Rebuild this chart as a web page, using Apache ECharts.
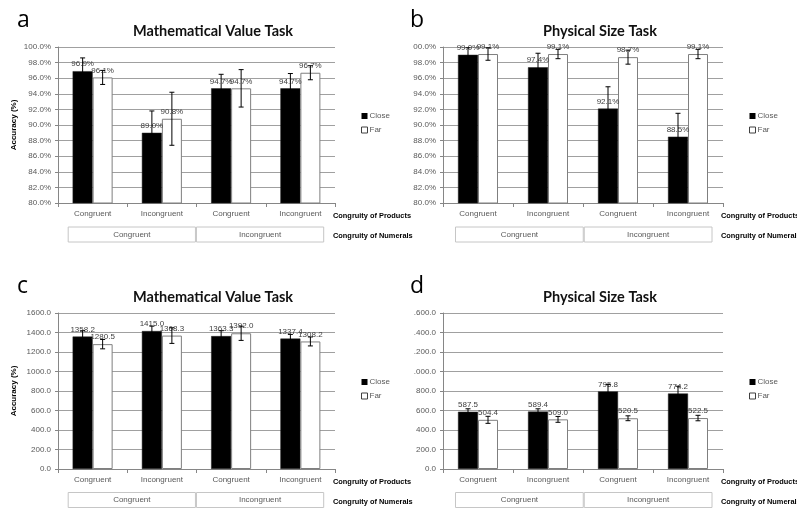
<!DOCTYPE html>
<html>
<head>
<meta charset="utf-8">
<script src="https://cdn.jsdelivr.net/npm/echarts@6/dist/echarts.min.js"></script>
<style>
html,body{margin:0;padding:0;background:#fff;}
#chart{width:797px;height:508px;}
</style>
</head>
<body>
<div id="chart"></div>
<script>
// ---------- data ----------
const productCategories = ['Congruent', 'Incongruent', 'Congruent', 'Incongruent'];
const numeralCategories = ['Congruent', 'Incongruent'];
const seriesNames = ['Close', 'Far'];

// a: Mathematical Value Task, accuracy
const accMathClose = [96.9, 89.0, 94.7, 94.7];
const accMathFar = [96.1, 90.8, 94.7, 96.7];
const accMathCloseErr = [1.7, 2.8, 1.8, 1.9];
const accMathFarErr = [0.9, 3.4, 2.4, 0.9];
// b: Physical Size Task, accuracy
const accPhysClose = [99.0, 97.4, 92.1, 88.5];
const accPhysFar = [99.1, 99.1, 98.7, 99.1];
const accPhysCloseErr = [0.9, 1.8, 2.8, 3.0];
const accPhysFarErr = [0.8, 0.6, 0.9, 0.6];
// c: Mathematical Value Task, RT
const rtMathClose = [1358.2, 1415.0, 1363.3, 1337.4];
const rtMathFar = [1280.5, 1368.3, 1392.0, 1308.2];
const rtMathCloseErr = [60, 50, 55, 43];
const rtMathFarErr = [48, 80, 73, 46];
// d: Physical Size Task, RT
const rtPhysClose = [587.5, 589.4, 795.8, 774.2];
const rtPhysFar = [504.4, 509.0, 520.5, 522.5];
const rtPhysCloseErr = [30, 28, 70, 75];
const rtPhysFarErr = [36, 30, 25, 28];

// tick labels (as they appear in the figure)
const ticksAccA = ['80.0%', '82.0%', '84.0%', '86.0%', '88.0%', '90.0%', '92.0%', '94.0%', '96.0%', '98.0%', '100.0%'];
const ticksAccB = ['80.0%', '82.0%', '84.0%', '86.0%', '88.0%', '90.0%', '92.0%', '94.0%', '96.0%', '98.0%', '00.0%'];
const ticksRtC = ['0.0', '200.0', '400.0', '600.0', '800.0', '1000.0', '1200.0', '1400.0', '1600.0'];
const ticksRtD = ['0.0', '200.0', '400.0', '600.0', '800.0', '.000.0', '.200.0', '.400.0', '.600.0'];

const panelLetters = ['a', 'b', 'c', 'd'];
const panelTitles = ['Mathematical Value Task', 'Physical Size Task', 'Mathematical Value Task', 'Physical Size Task'];
const yAxisTitle = 'Accuracy (%)';
const productsTitle = 'Congruity of Products';
const numeralsTitle = 'Congruity of Numerals';

// ---------- layout ----------
const panels = [
  {close: accMathClose, far: accMathFar, ce: accMathCloseErr, fe: accMathFarErr, ticks: ticksAccA, min: 80, max: 100, step: 2, pct: true, yname: true,
   left: 58, top: 47, width: 277, boxLeft: 67.7, boxWidth: 256.5, cx: 208, ox: 0},
  {close: accPhysClose, far: accPhysFar, ce: accPhysCloseErr, fe: accPhysFarErr, ticks: ticksAccB, min: 80, max: 100, step: 2, pct: true, yname: false,
   left: 443, top: 47, width: 280, boxLeft: 455, boxWidth: 257.5, cx: 595, ox: 393},
  {close: rtMathClose, far: rtMathFar, ce: rtMathCloseErr, fe: rtMathFarErr, ticks: ticksRtC, min: 0, max: 1600, step: 200, pct: false, yname: true,
   left: 58, top: 313, width: 277, boxLeft: 67.7, boxWidth: 256.5, cx: 208, ox: 0},
  {close: rtPhysClose, far: rtPhysFar, ce: rtPhysCloseErr, fe: rtPhysFarErr, ticks: ticksRtD, min: 0, max: 1600, step: 200, pct: false, yname: false,
   left: 443, top: 313, width: 280, boxLeft: 455, boxWidth: 257.5, cx: 595, ox: 393}
];

const SMALL = 'Liberation Sans';
const FS = 8;
const BAR_W = 20;
const grid = [], xAxis = [], yAxis = [], series = [], title = [], legend = [];

panels.forEach((p, i) => {
  const gi = grid.length;
  const dy = p.top - 47;
  grid.push({left: p.left, top: p.top, width: p.width, height: 156});
  xAxis.push({
    type: 'category', gridIndex: gi, data: productCategories,
    axisLine: {lineStyle: {color: '#868686', width: 1}},
    axisTick: {show: true, length: 4, lineStyle: {color: '#868686'}},
    axisLabel: {fontSize: FS, color: '#595959', fontFamily: SMALL, margin: 7}
  });
  yAxis.push({
    type: 'value', gridIndex: gi, min: p.min, max: p.max, interval: p.step,
    name: p.yname ? yAxisTitle : '', nameLocation: 'middle', nameGap: 40, nameRotate: 90,
    nameTextStyle: {fontSize: 8, fontWeight: 'bold', color: '#000', fontFamily: SMALL},
    axisLine: {show: true, lineStyle: {color: '#868686'}},
    axisTick: {show: true, length: 3, lineStyle: {color: '#868686'}},
    splitLine: {lineStyle: {color: '#a0a0a0', width: 1}},
    axisLabel: {fontSize: FS, color: '#595959', fontFamily: SMALL, margin: 7,
      formatter: (v, idx) => p.ticks[Math.round((v - p.min) / p.step)]}
  });
  const fmt = (prm) => prm.value.toFixed(1) + (p.pct ? '%' : '');
  const lbl = {show: true, position: 'top', distance: 3, fontSize: FS, color: '#404040', fontFamily: SMALL, formatter: fmt};
  series.push({
    name: seriesNames[0], type: 'bar', xAxisIndex: gi, yAxisIndex: gi, data: p.close,
    barWidth: BAR_W, barGap: '0%', itemStyle: {color: '#000', borderColor: '#222', borderWidth: 0.5}, label: lbl
  });
  series.push({
    name: seriesNames[1], type: 'bar', xAxisIndex: gi, yAxisIndex: gi, data: p.far,
    barWidth: BAR_W, barGap: '0%', itemStyle: {color: '#fff', borderColor: '#7f7f7f', borderWidth: 1}, label: lbl
  });
  const errData = [];
  p.close.forEach((v, k) => errData.push([k, v - p.ce[k], v + p.ce[k], -1]));
  p.far.forEach((v, k) => errData.push([k, v - p.fe[k], v + p.fe[k], 1]));
  series.push({
    type: 'custom', xAxisIndex: gi, yAxisIndex: gi, z: 5, silent: true, data: errData,
    encode: {x: 0, y: [1, 2]},
    renderItem: (params, api) => {
      const k = api.value(0), side = api.value(3);
      const lo = api.coord([k, api.value(1)]);
      const hi = api.coord([k, api.value(2)]);
      const x = lo[0] + side * BAR_W / 2;
      const st = {stroke: '#000', lineWidth: 1};
      const c = 2.5;
      return {type: 'group', children: [
        {type: 'line', shape: {x1: x, y1: lo[1], x2: x, y2: hi[1]}, style: st},
        {type: 'line', shape: {x1: x - c, y1: hi[1], x2: x + c, y2: hi[1]}, style: st},
        {type: 'line', shape: {x1: x - c, y1: lo[1], x2: x + c, y2: lo[1]}, style: st}
      ]};
    }
  });

  // numerals row (boxed labels)
  const bi = grid.length;
  grid.push({left: p.boxLeft, top: 226 + dy, width: p.boxWidth, height: 1});
  xAxis.push({
    type: 'category', gridIndex: bi, data: numeralCategories,
    axisLine: {show: false}, axisTick: {show: false},
    axisLabel: {margin: 0, fontSize: FS, color: '#595959', fontFamily: SMALL,
      width: p.boxWidth / 2 - 1, height: 15, lineHeight: 15, align: 'center',
      borderColor: '#c6c6c6', borderWidth: 1, padding: 0, overflow: 'none'}
  });
  yAxis.push({type: 'value', gridIndex: bi, show: false});

  // titles
  title.push({text: panelLetters[i], left: 12 + p.ox, top: 4 + dy,
    textStyle: {fontSize: 23, fontWeight: 'normal', color: '#000', fontFamily: 'Open Sans'}});
  title.push({text: panelTitles[i], left: p.cx, top: 19 + dy, textAlign: 'center',
    textStyle: {fontSize: 14.5, fontWeight: 'bold', color: '#111', fontFamily: 'Lato'}});
  const labX = p.left + p.width - 2;
  title.push({text: productsTitle, left: labX, top: 212 + dy, padding: 0,
    textStyle: {fontSize: 7.4, fontWeight: 'bold', color: '#000', fontFamily: SMALL}});
  title.push({text: numeralsTitle, left: labX, top: 232 + dy, padding: 0,
    textStyle: {fontSize: 7.4, fontWeight: 'bold', color: '#000', fontFamily: SMALL}});

  legend.push({
    left: p.left + p.width + 26, top: 112 + dy, orient: 'vertical', itemGap: 6,
    itemWidth: 6, itemHeight: 6, icon: 'rect', padding: 0, selectedMode: false,
    textStyle: {fontSize: FS, color: '#595959', fontFamily: SMALL, padding: [0, 0, 0, -3]},
    data: [
      {name: seriesNames[0], itemStyle: {color: '#000', borderWidth: 0}},
      {name: seriesNames[1], itemStyle: {color: '#fff', borderColor: '#404040', borderWidth: 1}}
    ]
  });
});

const chart = echarts.init(document.getElementById('chart'), null, {renderer: 'canvas'});
chart.setOption({
  animation: false,
  backgroundColor: '#fff',
  title, legend, grid, xAxis, yAxis, series
});
</script>
</body>
</html>
